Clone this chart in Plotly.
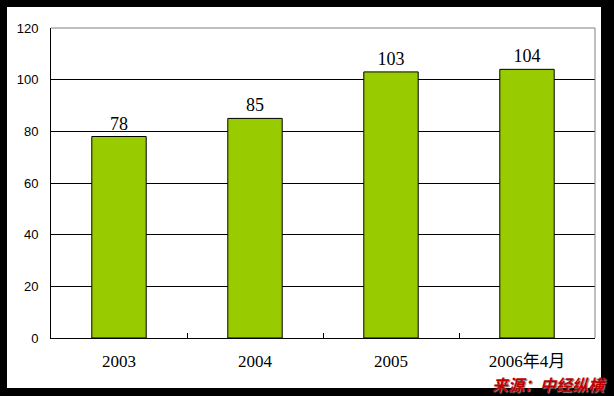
import plotly.graph_objects as go

categories = ["2003", "2004", "2005", "2006年4月"]
values = [78, 85, 103, 104]
y_ticks = [0, 20, 40, 60, 80, 100, 120]
source_text = "来源：中经纵横"

W, H = 614, 396
L, R, T, B = 51, 19, 28, 58
pw, ph = W - L - R, H - T - B

def px_x(x):
    return (x - L) / pw

def px_y(y):
    return (H - B - y) / ph

fig = go.Figure(go.Bar(
    x=categories, y=values, width=0.4,
    marker=dict(color="#99CC00", line=dict(color="black", width=1)),
    text=[str(v) for v in values], textposition="outside",
    textfont=dict(family="Liberation Serif, Noto Sans CJK SC", size=18, color="black"),
    cliponaxis=False,
))

fig.update_layout(
    width=W, height=H,
    margin=dict(l=L, r=R, t=T, b=B),
    paper_bgcolor="black", plot_bgcolor="white",
    showlegend=False,
    bargap=0.6,
    xaxis=dict(
        showline=True, linecolor="black", linewidth=1,
        ticks="inside", ticklen=5, tickcolor="black", tickson="boundaries",
        tickfont=dict(family="Liberation Serif, Noto Sans CJK SC", size=17, color="black"),
        ticklabelstandoff=8, showgrid=False,
    ),
    yaxis=dict(
        range=[0, 120], tickvals=y_ticks,
        showline=True, linecolor="black", linewidth=1,
        showgrid=True, gridcolor="black", gridwidth=1, zeroline=False,
        tickfont=dict(family="Liberation Sans, DejaVu Sans", size=13, color="black"),
        ticklabelstandoff=9,
    ),
    shapes=[
        dict(type="rect", xref="paper", yref="paper",
             x0=px_x(7), x1=px_x(601), y0=px_y(388), y1=px_y(7),
             fillcolor="white", line=dict(width=0), layer="below"),
        dict(type="line", xref="paper", yref="paper", x0=0, x1=1, y0=1, y1=1,
             line=dict(color="#808080", width=1), layer="above"),
        dict(type="line", xref="paper", yref="paper", x0=1, x1=1, y0=0, y1=1,
             line=dict(color="#808080", width=1), layer="above"),
    ],
    annotations=[dict(
        text="<b><i>" + source_text + "</i></b>", xref="paper", yref="paper",
        x=px_x(608), y=px_y(384), xanchor="right", yanchor="middle", showarrow=False,
        font=dict(family="Noto Sans CJK SC", size=16, color="#C00000",
                  shadow="1px 1px 1px #808080"),
        bgcolor="rgba(0,0,0,0)", borderpad=0,
    )],
)

fig.write_html("out.html", config={"displayModeBar": False},
               post_script="document.body.style.margin='0';document.body.style.overflow='hidden';")
